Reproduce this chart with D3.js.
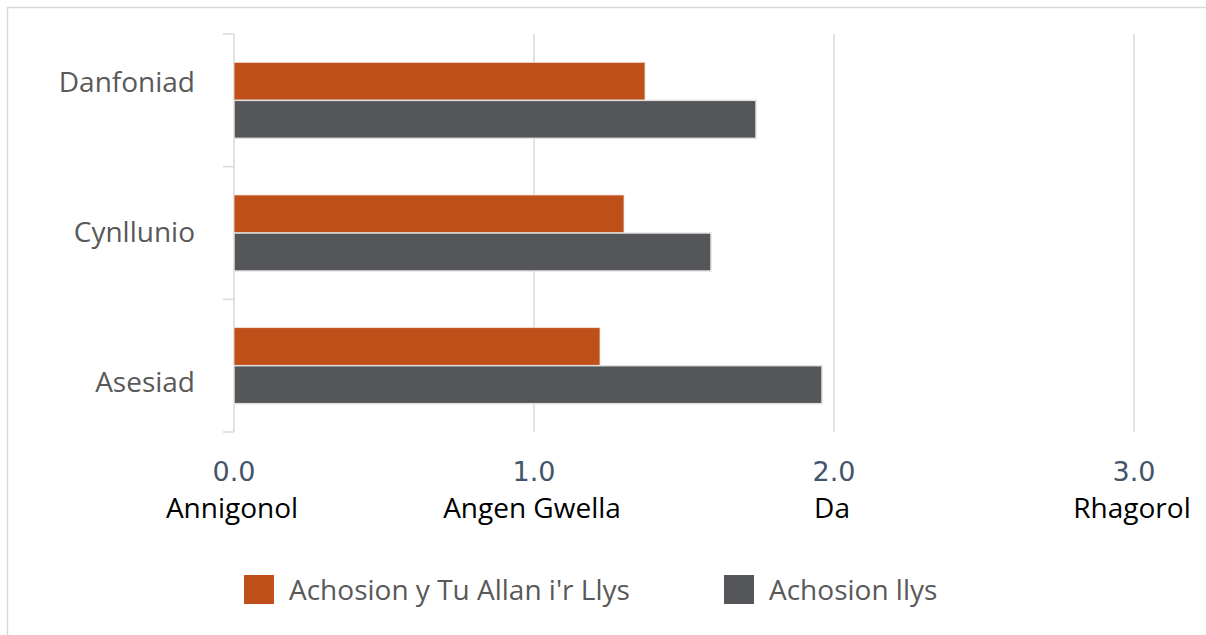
<!DOCTYPE html>
<html>
<head>
<meta charset="utf-8">
<script src="https://cdn.jsdelivr.net/npm/d3@7"></script>
<style>
  html, body { margin: 0; padding: 0; background: #fff; }
  svg { display: block; }
</style>
</head>
<body>
<svg id="chart" width="1206" height="635"></svg>
<script>
// Categories, top to bottom
const categories = ["Danfoniad", "Cynllunio", "Asesiad"];
// Series
const seriesNames = ["Achosion y Tu Allan i'r Llys", "Achosion llys"];
const outOfCourt = [1.37, 1.30, 1.22];
const court = [1.74, 1.59, 1.96];
// Axis ticks and rating labels
const tickValues = [0, 1, 2, 3];
const ratingLabels = ["Annigonol", "Angen Gwella", "Da", "Rhagorol"];

const colors = ["#C0501A", "#55565A"];
const seriesValues = [outOfCourt, court];

const svg = d3.select("#chart");

// Outer frame
svg.append("rect")
  .attr("x", 7.5).attr("y", 7.5)
  .attr("width", 1300).attr("height", 700)
  .attr("fill", "none").attr("stroke", "#d9d9d9").attr("stroke-width", 1.5);

const x = d3.scaleLinear().domain([0, 3]).range([234, 1134]);
const y0 = d3.scaleBand().domain(categories).range([34, 432])
  .paddingInner(0.427).paddingOuter(0.2135);
const y1 = d3.scaleBand().domain(seriesNames).range([0, y0.bandwidth()]);

// Vertical gridlines
svg.append("g").selectAll("line")
  .data(tickValues.slice(1))
  .join("line")
  .attr("x1", d => x(d)).attr("x2", d => x(d))
  .attr("y1", 34).attr("y2", 432)
  .attr("stroke", "#d9d9d9").attr("stroke-width", 1.5);

// Category axis with outward ticks at band boundaries
const yAxis = svg.append("g");
yAxis.append("line")
  .attr("x1", x(0)).attr("x2", x(0))
  .attr("y1", 34).attr("y2", 432)
  .attr("stroke", "#d9d9d9").attr("stroke-width", 1.5);
const boundaries = [34].concat(categories.map(c => y0(c) - y0.step() * y0.paddingInner() / 2 + y0.step()));
yAxis.selectAll("line.tick")
  .data(boundaries)
  .join("line")
  .attr("class", "tick")
  .attr("x1", x(0) - 11).attr("x2", x(0))
  .attr("y1", d => d).attr("y2", d => d)
  .attr("stroke", "#d9d9d9").attr("stroke-width", 1.5);

// Category labels
const labelY = d3.scalePoint().domain(categories).range([82, 382]);
svg.append("g").selectAll("text")
  .data(categories)
  .join("text")
  .attr("x", 195)
  .attr("y", d => labelY(d))
  .attr("dy", "0.35em")
  .attr("text-anchor", "end")
  .attr("font-family", "'Open Sans', sans-serif")
  .attr("font-size", 28)
  .attr("fill", "#595959")
  .text(d => d);

// Bars
seriesNames.forEach((name, si) => {
  svg.append("g").selectAll("rect")
    .data(categories.map((c, i) => ({ c, v: seriesValues[si][i] })))
    .join("rect")
    .attr("x", x(0))
    .attr("y", d => y0(d.c) + y1(name))
    .attr("width", d => x(d.v) - x(0))
    .attr("height", y1.bandwidth())
    .attr("fill", colors[si])
    .attr("stroke", si === 1 ? "#e2e2e2" : "#f3e0d6")
    .attr("stroke-width", si === 1 ? 1.5 : 0.8);
});

// Numeric tick labels
svg.append("g").selectAll("text")
  .data(tickValues)
  .join("text")
  .attr("x", d => x(d))
  .attr("y", 481)
  .attr("text-anchor", "middle")
  .attr("font-family", "'DejaVu Sans', Verdana, sans-serif")
  .attr("font-size", 27)
  .attr("fill", "#44546A")
  .text(d => d3.format(".1f")(d));

// Rating labels under the ticks
svg.append("g").selectAll("text")
  .data(tickValues)
  .join("text")
  .attr("x", d => x(d) - 2)
  .attr("y", 518)
  .attr("text-anchor", "middle")
  .attr("font-family", "'Open Sans', sans-serif")
  .attr("font-size", 28)
  .attr("fill", "#000")
  .text((d, i) => ratingLabels[i]);

// Legend
const legendX = [244, 724];
const legend = svg.append("g").selectAll("g")
  .data(seriesNames)
  .join("g")
  .attr("transform", (d, i) => `translate(${legendX[i]},575)`);
legend.append("rect")
  .attr("width", 30).attr("height", 29)
  .attr("fill", (d, i) => colors[i]);
legend.append("text")
  .attr("x", 45).attr("y", 15)
  .attr("dy", "0.35em")
  .attr("font-family", "'Open Sans', sans-serif")
  .attr("font-size", 28)
  .attr("fill", "#595959")
  .text(d => d);
</script>
</body>
</html>
